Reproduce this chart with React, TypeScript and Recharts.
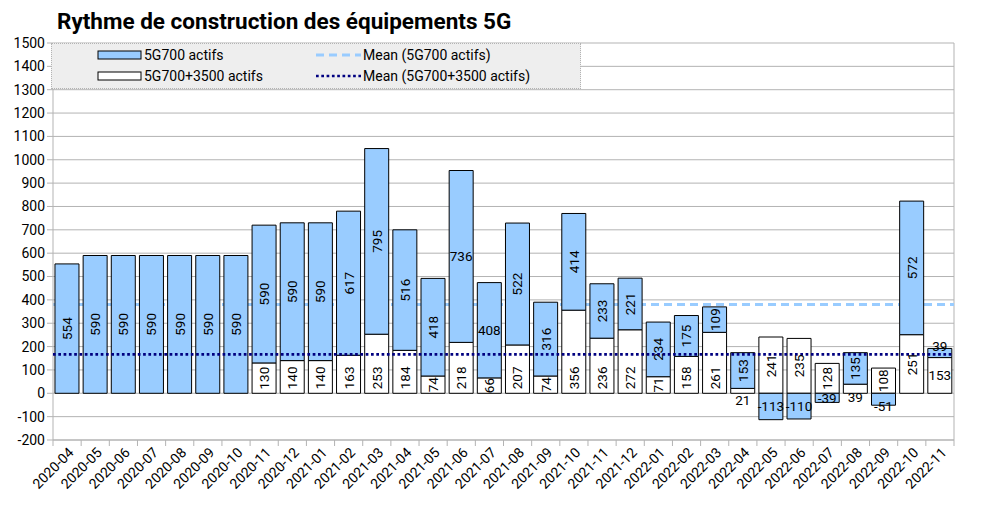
import React from 'react';
import {
  ComposedChart,
  Bar,
  XAxis,
  YAxis,
  CartesianGrid,
  ReferenceLine,
  LabelList,
} from 'recharts';

const months = [
  '2020-04', '2020-05', '2020-06', '2020-07', '2020-08', '2020-09', '2020-10', '2020-11',
  '2020-12', '2021-01', '2021-02', '2021-03', '2021-04', '2021-05', '2021-06', '2021-07',
  '2021-08', '2021-09', '2021-10', '2021-11', '2021-12', '2022-01', '2022-02', '2022-03',
  '2022-04', '2022-05', '2022-06', '2022-07', '2022-08', '2022-09', '2022-10', '2022-11',
];

// 5G700 actifs (blue, stacked on top)
const actifs700 = [
  554, 590, 590, 590, 590, 590, 590, 590,
  590, 590, 617, 795, 516, 418, 736, 408,
  522, 316, 414, 233, 221, 234, 175, 109,
  153, -113, -110, -39, 135, -51, 572, 39,
];

// 5G700+3500 actifs (white, bottom)
const actifs700_3500 = [
  null, null, null, null, null, null, null, 130,
  140, 140, 163, 253, 184, 74, 218, 66,
  207, 74, 356, 236, 272, 71, 158, 261,
  21, 241, 235, 128, 39, 108, 251, 153,
];

const mean700 = 380;
const mean700_3500 = 167;

const yTicks = [
  -200, -100, 0, 100, 200, 300, 400, 500, 600, 700, 800,
  900, 1000, 1100, 1200, 1300, 1400, 1500,
];

const data = months.map((m, i) => ({
  month: m,
  blue: actifs700[i],
  white: actifs700_3500[i],
}));

const FONT = 'Roboto, "Liberation Sans", sans-serif';
const BLUE = '#99ccff';
const NAVY = '#000080';
const GRID = '#b3b3b3';

const W = 985;
const H = 507;
const MARGIN = { top: 43, right: 31, bottom: 0, left: 2 };
const Y_W = 51;
const PLOT_LEFT = MARGIN.left + Y_W;
const PLOT_W = W - PLOT_LEFT - MARGIN.right;
const LABEL_SIZE = 13.5;

// label tweaks that LibreOffice applied to avoid overlaps
const flatBlue = new Set([14, 15, 25, 26, 27, 29, 31]);
const flatWhite = new Set([24, 28, 31]);
const nudgeBlue: Record<number, number> = { 29: 7, 31: -7 };
// these white labels sit just under the zero line
const belowWhite: Record<number, number> = { 24: 7, 28: 4 };
// white labels pushed up a little
const raiseWhite: Record<number, number> = { 25: 12, 26: 12, 30: 14 };

const monthIndex = (cx: number) => Math.floor(((cx - PLOT_LEFT) / PLOT_W) * months.length);

const textProps = {
  fontSize: LABEL_SIZE,
  fontFamily: FONT,
  fill: '#000',
};

// blue labels: centred in their segment
const blueLabel = (props: any) => {
  const { x, y, width, height, value } = props;
  if (value === null || value === undefined) return null;
  const cx = x + width / 2;
  const i = monthIndex(cx);
  const cy = y + height / 2 + (nudgeBlue[i] || 0);
  const rotate = !flatBlue.has(i);
  return (
    <text
      x={cx}
      y={cy}
      textAnchor="middle"
      dominantBaseline="central"
      transform={rotate ? `rotate(-90, ${cx}, ${cy})` : undefined}
      {...textProps}
    >
      {value}
    </text>
  );
};

// white labels: rotated ones start from the base of the bar
const whiteLabel = (props: any) => {
  const { x, y, width, height, value } = props;
  if (value === null || value === undefined) return null;
  const cx = x + width / 2;
  const i = monthIndex(cx);
  const top = Math.min(y, y + height);
  const bottom = Math.max(y, y + height);
  if (flatWhite.has(i)) {
    const cy = belowWhite[i] !== undefined ? bottom + belowWhite[i] : (top + bottom) / 2;
    return (
      <text x={cx} y={cy} textAnchor="middle" dominantBaseline="central" {...textProps}>
        {value}
      </text>
    );
  }
  const textLen = String(value).length * LABEL_SIZE * 0.56;
  const seg = bottom - top;
  if (seg < textLen + 8) {
    const cy = (top + bottom) / 2;
    return (
      <text
        x={cx}
        y={cy}
        textAnchor="middle"
        dominantBaseline="central"
        transform={`rotate(-90, ${cx}, ${cy})`}
        {...textProps}
      >
        {value}
      </text>
    );
  }
  const sy = bottom - 4 - (raiseWhite[i] || 0);
  return (
    <text
      x={cx}
      y={sy}
      textAnchor="start"
      dominantBaseline="central"
      transform={`rotate(-90, ${cx}, ${sy})`}
      {...textProps}
    >
      {value}
    </text>
  );
};

const MonthTick = (props: any) => {
  const { x, y, payload, index } = props;
  const half = payload.offset || PLOT_W / months.length / 2;
  return (
    <g>
      <line x1={x - half} x2={x - half} y1={y} y2={y + 6} stroke={GRID} />
      {index === months.length - 1 && (
        <line x1={x + half} x2={x + half} y1={y} y2={y + 6} stroke={GRID} />
      )}
      <text
        x={x + 4}
        y={y + 10}
        textAnchor="end"
        dominantBaseline="central"
        fontSize={14}
        fontFamily={FONT}
        fill="#000"
        transform={`rotate(-45, ${x + 4}, ${y + 10})`}
      >
        {payload.value}
      </text>
    </g>
  );
};

const LegendBox = () => (
  <div
    style={{
      position: 'absolute',
      left: 51,
      top: 43,
      width: 528,
      height: 44,
      background: '#eeeeee',
      border: '1px dotted #b3b3b3',
      fontFamily: FONT,
      fontSize: 14,
      color: '#000',
    }}
  >
    <svg width={528} height={44} style={{ position: 'absolute', left: 0, top: 0 }}>
      <rect x={46} y={7} width={43} height={8} fill={BLUE} stroke="#000" />
      <rect x={46} y={28} width={43} height={8} fill="#fff" stroke="#000" />
      <line x1={264} x2={309} y1={11} y2={11} stroke={BLUE} strokeWidth={3} strokeDasharray="8 5" />
      <line x1={264} x2={309} y1={32} y2={32} stroke={NAVY} strokeWidth={2.7} strokeDasharray="2.7 2.6" />
    </svg>
    <div style={{ position: 'absolute', left: 92, top: 2, lineHeight: '18px' }}>5G700 actifs</div>
    <div style={{ position: 'absolute', left: 92, top: 23, lineHeight: '18px' }}>5G700+3500 actifs</div>
    <div style={{ position: 'absolute', left: 311, top: 2, lineHeight: '18px' }}>Mean (5G700 actifs)</div>
    <div style={{ position: 'absolute', left: 311, top: 23, lineHeight: '18px' }}>Mean (5G700+3500 actifs)</div>
  </div>
);

export default function App() {
  return (
    <div style={{ position: 'absolute', left: 0, top: 0, width: W, height: H, background: '#fff' }}>
      <div
        style={{
          position: 'absolute',
          left: 57,
          top: 8,
          fontFamily: FONT,
          fontWeight: 700,
          fontSize: 22.5,
          color: '#000',
          whiteSpace: 'nowrap',
        }}
      >
        Rythme de construction des équipements 5G
      </div>
      <ComposedChart
        width={W}
        height={H}
        data={data}
        stackOffset="sign"
        barCategoryGap="7%"
        margin={MARGIN}
      >
        <CartesianGrid
          stroke={GRID}
          vertical={true}
          verticalCoordinatesGenerator={(p: any) => [p.offset.left + p.offset.width]}
        />
        <XAxis
          dataKey="month"
          interval={0}
          height={67}
          tickLine={false}
          tickSize={0}
          tickMargin={0}
          axisLine={{ stroke: GRID }}
          tick={<MonthTick />}
        />
        <YAxis
          domain={[-200, 1500]}
          ticks={yTicks}
          interval={0}
          width={Y_W}
          axisLine={{ stroke: GRID }}
          tickLine={{ stroke: GRID }}
          tickSize={6}
          tick={{ fontSize: 14, fontFamily: FONT, fill: '#000' }}
        />
        <ReferenceLine
          y={mean700}
          stroke={BLUE}
          strokeWidth={3}
          strokeDasharray="8 5"
          zIndex={-50}
        />
        <Bar dataKey="white" stackId="a" fill="#fff" stroke="#000" strokeWidth={1} isAnimationActive={false}>
          <LabelList dataKey="white" content={whiteLabel} />
        </Bar>
        <Bar dataKey="blue" stackId="a" fill={BLUE} stroke="#000" strokeWidth={1} isAnimationActive={false}>
          <LabelList dataKey="blue" content={blueLabel} />
        </Bar>
        <ReferenceLine
          y={mean700_3500}
          stroke={NAVY}
          strokeWidth={2.7}
          strokeDasharray="2.7 2.6"
          zIndex={1500}
        />
      </ComposedChart>
      <LegendBox />
    </div>
  );
}
